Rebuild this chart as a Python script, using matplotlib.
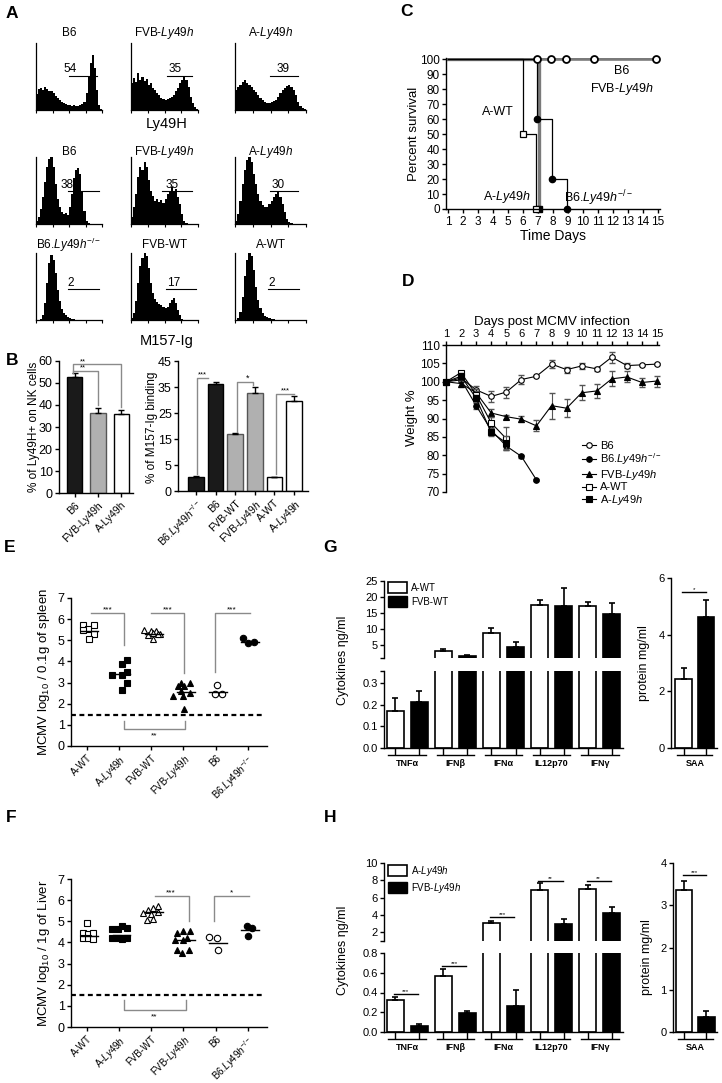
import numpy as np
import matplotlib
matplotlib.use('Agg')
import matplotlib.pyplot as plt
from matplotlib.patches import Patch
from matplotlib.lines import Line2D
from matplotlib.transforms import ScaledTranslation

# ---------------- data ----------------
# A: flow histograms, 32 bins over 4 log decades, height relative to plot height
hist_B6_ly49h = [0.24, 0.31, 0.33, 0.30, 0.34, 0.31, 0.28, 0.29, 0.25, 0.21, 0.18, 0.15, 0.12, 0.11, 0.09, 0.08,
                 0.08, 0.06, 0.07, 0.06, 0.06, 0.07, 0.09, 0.12, 0.25, 0.50, 0.70, 0.82, 0.62, 0.30, 0.08, 0.01]
hist_FVBh_ly49h = [0.40, 0.48, 0.42, 0.55, 0.45, 0.50, 0.43, 0.47, 0.38, 0.40, 0.33, 0.30, 0.25, 0.22, 0.18, 0.17,
                   0.15, 0.17, 0.18, 0.20, 0.22, 0.28, 0.33, 0.40, 0.45, 0.50, 0.45, 0.35, 0.20, 0.10, 0.05, 0.02]
hist_Ah_ly49h = [0.30, 0.35, 0.38, 0.42, 0.45, 0.40, 0.38, 0.35, 0.30, 0.27, 0.22, 0.18, 0.15, 0.12, 0.11, 0.10,
                 0.12, 0.13, 0.15, 0.20, 0.25, 0.30, 0.33, 0.36, 0.38, 0.34, 0.30, 0.22, 0.12, 0.06, 0.03, 0.01]
hist_B6_m157 = [0.04, 0.10, 0.22, 0.40, 0.62, 0.85, 0.97, 1.00, 0.85, 0.60, 0.38, 0.25, 0.18, 0.15, 0.16, 0.14,
                0.25, 0.45, 0.68, 0.80, 0.83, 0.75, 0.50, 0.20, 0.05, 0.01, 0, 0, 0, 0, 0, 0]
hist_FVBh_m157 = [0.10, 0.25, 0.45, 0.70, 0.85, 0.80, 0.93, 0.85, 0.65, 0.50, 0.42, 0.35, 0.38, 0.33, 0.36, 0.32,
                  0.38, 0.45, 0.50, 0.55, 0.48, 0.52, 0.40, 0.30, 0.15, 0.05, 0.01, 0, 0, 0, 0, 0]
hist_Ah_m157 = [0.05, 0.15, 0.35, 0.60, 0.80, 0.95, 1.00, 0.92, 0.75, 0.60, 0.45, 0.35, 0.28, 0.25, 0.26, 0.30,
                0.35, 0.40, 0.45, 0.48, 0.40, 0.30, 0.18, 0.08, 0.03, 0.01, 0, 0, 0, 0, 0, 0]
hist_B6ko_m157 = [0, 0, 0.02, 0.08, 0.25, 0.55, 0.85, 0.97, 0.90, 0.70, 0.45, 0.28, 0.16, 0.10, 0.07, 0.05,
                  0.03, 0.02, 0.01, 0, 0, 0, 0, 0, 0, 0, 0, 0, 0, 0, 0, 0]
hist_FVBwt_m157 = [0.03, 0.10, 0.28, 0.55, 0.80, 0.92, 1.00, 0.95, 0.78, 0.55, 0.40, 0.32, 0.27, 0.24, 0.22, 0.20,
                   0.18, 0.20, 0.26, 0.30, 0.33, 0.25, 0.15, 0.07, 0.02, 0, 0, 0, 0, 0, 0, 0]
hist_Awt_m157 = [0, 0.03, 0.12, 0.35, 0.65, 0.90, 1.00, 0.95, 0.75, 0.50, 0.30, 0.18, 0.10, 0.06, 0.04, 0.03,
                 0.02, 0.01, 0, 0, 0, 0, 0, 0, 0, 0, 0, 0, 0, 0, 0, 0]
hist_counts = [[hist_B6_ly49h, hist_FVBh_ly49h, hist_Ah_ly49h],
               [hist_B6_m157, hist_FVBh_m157, hist_Ah_m157],
               [hist_B6ko_m157, hist_FVBwt_m157, hist_Awt_m157]]
hist_titles = [["B6", "FVB-$\\it{Ly49h}$", "A-$\\it{Ly49h}$"],
               ["B6", "FVB-$\\it{Ly49h}$", "A-$\\it{Ly49h}$"],
               ["B6.$\\it{Ly49h}^{-/-}$", "FVB-WT", "A-WT"]]
gate_pct = [["54", "35", "39"], ["38", "35", "30"], ["2", "17", "2"]]
gate_start = [[2.0, 2.15, 1.97], [1.94, 1.85, 1.97], [1.94, 2.09, 1.86]]
gate_end = [[3.7, 3.64, 3.55], [3.82, 3.64, 3.55], [3.82, 3.88, 3.63]]
gate_label_x = [[2.06, 2.63, 2.7], [1.88, 2.44, 2.4], [2.1, 2.57, 2.07]]
gate_level = [0.51, 0.49, 0.46]

# B
b_left_groups = ["B6", "FVB-Ly49h", "A-Ly49h"]
b_left_vals = [52.9, 36.2, 35.8]
b_left_err = [1.5, 2.6, 1.9]
b_right_groups = ["B6.$\\it{Ly49h}^{-/-}$", "B6", "FVB-WT", "FVB-$\\it{Ly49h}$", "A-WT", "A-$\\it{Ly49h}$"]
b_right_vals = [2.7, 36.0, 16.9, 32.6, 2.6, 29.7]
b_right_err = [0.15, 1.0, 0.4, 2.5, 0.15, 1.9]

# C: survival
c_b6_days = [1, 15]
c_b6 = [100, 100]
c_b6_censor = [6.95, 7.85, 8.85, 10.75, 14.85]
c_awt_days = [1, 6, 6.9]
c_awt = [100, 50, 0]
c_aly_days = [1, 7.05]
c_aly = [100, 0]
c_ko_days = [1, 6.95, 7.95, 8.95]
c_ko = [100, 60, 20, 0]

# D: weight
days = np.arange(1, 16)
d_b6 = [100, 101.0, 97.8, 96.0, 97.2, 100.6, 101.5, 104.8, 103.3, 104.3, 103.5, 106.7, 104.4, 104.6, 104.8]
d_b6_err = [0.3, 1.0, 1.0, 1.5, 1.5, 1.2, 0.3, 1.0, 0.8, 0.9, 0.5, 1.5, 0.6, 0.3, 0.3]
d_ko = [100, 100.5, 93.5, 86.8, 82.5, 79.7, 73.3]
d_ko_err = [0.3, 0.5, 0.8, 1.0, 1.0, 0.5, 0.3]
d_fvbly = [100, 99.5, 97.0, 91.5, 90.5, 89.8, 88.0, 93.5, 92.8, 97.0, 97.5, 100.8, 101.3, 99.8, 100.2]
d_fvbly_err = [0.3, 0.8, 1.0, 1.0, 0.5, 0.8, 1.5, 3.5, 2.5, 2.0, 2.0, 2.0, 1.5, 1.2, 1.5]
d_awt = [100, 102.5, 96.5, 88.8, 84.5]
d_awt_err = [0.3, 0.5, 1.0, 1.5, 3.2]
d_aly = [100, 101.5, 95.5, 86.2, 83.4]
d_aly_err = [0.3, 0.8, 1.0, 1.0, 1.8]

# E / F: viral titres
titre_groups = ["A-WT", "A-$\\it{Ly49h}$", "FVB-WT", "FVB-$\\it{Ly49h}$", "B6", "B6.$\\it{Ly49h}^{-/-}$"]
spleen = [[5.70, 5.72, 5.55, 5.50, 5.30, 5.06],
          [3.34, 3.34, 4.05, 3.88, 3.48, 2.98, 2.66],
          [5.50, 5.45, 5.45, 5.30, 5.35, 5.25, 5.28, 5.06],
          [2.98, 2.98, 2.83, 2.83, 2.60, 2.50, 2.36, 2.36, 1.73],
          [2.88, 2.44, 2.44],
          [5.10, 4.85, 4.90]]
spleen_jit = [[-0.12, 0.22, 0.03, -0.12, 0.22, 0.06],
              [-0.22, 0.09, 0.25, 0.09, 0.25, 0.25, 0.09],
              [-0.22, 0.0, 0.15, 0.28, 0.05, -0.1, 0.2, 0.05],
              [-0.09, 0.19, 0.03, -0.16, -0.09, 0.19, -0.31, 0.0, 0.03],
              [0.03, -0.03, 0.19],
              [-0.16, 0.0, 0.19]]
spleen_line = [5.45, 3.4, 5.3, 2.55, 2.55, 4.9]
liver = [[4.93, 4.45, 4.42, 4.45, 4.20, 4.22, 4.18],
         [4.63, 4.63, 4.76, 4.68, 4.22, 4.20, 4.18, 4.22],
         [5.40, 5.55, 5.63, 5.70, 5.36, 5.42, 5.10, 5.05],
         [4.45, 4.52, 4.52, 4.13, 4.20, 4.10, 3.66, 3.66, 3.50],
         [4.25, 4.20, 3.62],
         [4.80, 4.70, 4.30]]
liver_jit = [[0.0, -0.12, 0.04, 0.2, -0.12, 0.04, 0.2],
             [-0.22, -0.05, 0.1, 0.25, -0.22, -0.05, 0.1, 0.25],
             [-0.25, -0.09, 0.06, 0.22, 0.0, 0.22, 0.06, -0.12],
             [-0.19, 0.0, 0.19, -0.25, 0.12, 0.0, -0.19, 0.16, -0.03],
             [-0.19, 0.03, 0.06],
             [-0.03, 0.12, 0.0]]
liver_line = [4.3, 4.37, 5.42, 4.13, 3.97, 4.57]
detection_limit = [1.45, 1.53]

# G / H: cytokines and SAA
cyto_names = ["TNF\u03b1", "IFN\u03b2", "IFN\u03b1", "IL12p70", "IFN\u03b3"]
g_awt = [0.17, 3.1, 8.8, 17.5, 17.1]
g_awt_err = [0.06, 0.6, 1.5, 1.5, 1.3]
g_fvbwt = [0.21, 1.6, 4.4, 17.2, 14.7]
g_fvbwt_err = [0.055, 0.3, 1.5, 5.5, 3.3]
g_saa = [2.44, 4.63]
g_saa_err = [0.4, 0.6]
h_aly = [0.32, 0.57, 3.05, 6.85, 7.05]
h_aly_err = [0.03, 0.065, 0.3, 0.9, 0.45]
h_fvbly = [0.065, 0.19, 0.26, 2.95, 4.25]
h_fvbly_err = [0.02, 0.025, 0.17, 0.6, 0.7]
h_sig_level = [0.385, 0.67, 3.76, 7.9, 7.9]
h_sig_text = ["***", "***", "***", "**", "**"]
h_saa = [3.36, 0.36]
h_saa_err = [0.21, 0.14]

# ---------------- style ----------------
plt.rcParams['font.family'] = ['Liberation Sans', 'DejaVu Sans']
plt.rcParams['mathtext.fontset'] = 'custom'
plt.rcParams['mathtext.rm'] = 'Liberation Sans'
plt.rcParams['mathtext.it'] = 'Liberation Sans:italic'
plt.rcParams['mathtext.bf'] = 'Liberation Sans:bold'
plt.rcParams['axes.linewidth'] = 1.0
plt.rcParams['xtick.major.width'] = 1.0
plt.rcParams['ytick.major.width'] = 1.0
plt.rcParams['xtick.major.size'] = 3
plt.rcParams['ytick.major.size'] = 3
plt.rcParams['xtick.major.pad'] = 2
plt.rcParams['ytick.major.pad'] = 1.5

W, H = 722, 1083
fig = plt.figure(figsize=(W / 100, H / 100), dpi=100)
GRAY = '#8a8a8a'


def add_ax(left, top, right, bottom):
    ax = fig.add_axes([left / W, 1 - bottom / H, (right - left) / W, (bottom - top) / H])
    ax.patch.set_alpha(0)
    return ax


def ftext(x, y, s, **kw):
    fig.text(x / W, 1 - y / H, s, **kw)


def clean(ax, keep=('left', 'bottom')):
    for side in ['left', 'right', 'top', 'bottom']:
        ax.spines[side].set_visible(side in keep)


# panel letters
for letter, lx, ly in [('A', 12, 13), ('B', 12, 361), ('C', 407, 11), ('D', 408, 282),
                       ('E', 10, 547), ('G', 330, 547), ('F', 11, 818), ('H', 330, 818)]:
    ftext(lx, ly, letter, fontsize=12.5, fontweight='bold', ha='center', va='center')

# ---------------- A ----------------
hist_edges = np.linspace(0, 4, 33)
hist_cols = [(36, 102), (131, 198), (235, 306)]
hist_rows = [(43, 110), (157, 224), (253, 320)]
title_y = [33, 152, 245]
for r in range(3):
    top, bot = hist_rows[r]
    for c in range(3):
        left, right = hist_cols[c]
        ax = add_ax(left, top, right, bot)
        ax.stairs(hist_counts[r][c], hist_edges, fill=True, color='black', lw=0)
        ax.set_xlim(0, 4)
        ax.set_ylim(0, 1)
        clean(ax)
        ax.set_yticks([])
        ax.set_xticks(range(5))
        ax.set_xticklabels([])
        ax.tick_params(axis='x', length=2.5, width=0.8)
        ax.spines['left'].set_linewidth(0.9)
        ax.spines['bottom'].set_linewidth(0.9)
        lvl = gate_level[r]
        ax.plot([gate_start[r][c], gate_end[r][c]], [lvl, lvl], color='black', lw=0.8)
        ax.text(gate_label_x[r][c], lvl + 0.01, gate_pct[r][c], ha='center', va='bottom', fontsize=8.5)
        ftext((left + right) / 2, title_y[r], hist_titles[r][c], ha='center', va='center', fontsize=8.5)
ftext(167, 124, "Ly49H", ha='center', va='center', fontsize=10.5)
ftext(167, 341, "M157-Ig", ha='center', va='center', fontsize=10.5)

# ---------------- B ----------------
ax = add_ax(59, 361, 133, 493)
xb = np.arange(len(b_left_vals))
ax.bar(xb, b_left_vals, width=0.64, color=['#1a1a1a', '#b0b0b0', 'white'], edgecolor=['black', '#555555', 'black'], lw=1)
ax.errorbar(xb, b_left_vals, yerr=[np.zeros(3), b_left_err], fmt='none', ecolor='black', elinewidth=1, capsize=2.5)
ax.set_xlim(-0.66, 2.49)
ax.set_ylim(0, 60)
ax.set_yticks(range(0, 61, 10))
ax.set_xticks(xb)
ax.set_xticklabels(b_left_groups, rotation=45, ha='right', rotation_mode='anchor', fontsize=7.5)
ax.tick_params(axis='y', labelsize=9)
clean(ax)
ax.plot([-0.05, -0.05, 2, 2], [54.6, 58.5, 58.5, 39.2], color=GRAY, lw=1)
ax.plot([-0.05, 1, 1], [55.6, 55.6, 40.2], color=GRAY, lw=1)
ax.text(0.36, 59.6, "**", ha='center', va='center', fontsize=5.5)
ax.text(0.36, 56.9, "**", ha='center', va='center', fontsize=5.5)
ftext(34, 427, "% of Ly49H+ on NK cells", rotation=90, ha='center', va='center', fontsize=8.5)


def fwd(y):
    y = np.asarray(y, dtype=float)
    return np.where(y < 5, 2 * y - 5, y)


def inv(s):
    s = np.asarray(s, dtype=float)
    return np.where(s < 5, (s + 5) / 2, s)


ax = add_ax(178, 361, 308, 491)
ax.set_yscale('function', functions=(fwd, inv))
xb = np.arange(len(b_right_vals))
ax.bar(xb, b_right_vals, width=0.8, color=['#1a1a1a', '#1a1a1a', '#b0b0b0', '#b0b0b0', 'white', 'white'],
       edgecolor=['black', 'black', '#555555', '#555555', 'black', 'black'], lw=1)
ax.errorbar(xb, b_right_vals, yerr=[np.zeros(6), b_right_err], fmt='none', ecolor='black', elinewidth=1, capsize=2.5)
ax.set_xlim(-0.92, 5.71)
ax.set_ylim(0, 45)
ax.set_yticks([0, 5, 15, 25, 35, 45])
ax.set_yticklabels(['0', '5', '15', '25', '35', '45'])
ax.set_xticks(xb)
ax.set_xticklabels(b_right_groups, rotation=45, ha='right', rotation_mode='anchor', fontsize=7.5)
ax.tick_params(axis='y', labelsize=9)
clean(ax)
ax.plot([0.03, 0.03, 0.61], [3.3, 38.5, 38.5], color=GRAY, lw=1)
ax.plot([2.07, 2.07, 2.92, 2.92], [17.7, 36.9, 36.9, 35.6], color=GRAY, lw=1)
ax.plot([4.07, 4.07, 5.0], [3.2, 32.3, 32.3], color=GRAY, lw=1)
ax.text(0.32, 39.6, "***", ha='center', va='center', fontsize=5.5)
ax.text(2.65, 38.4, "*", ha='center', va='center', fontsize=6.5)
ax.text(4.54, 33.4, "***", ha='center', va='center', fontsize=5.5)
ftext(152, 427, "% of M157-Ig binding", rotation=90, ha='center', va='center', fontsize=8.5)

# ---------------- C ----------------
ax = add_ax(446, 58, 660, 209)
ax.plot(c_b6_days, c_b6, color='#7a7a7a', lw=2.6, solid_capstyle='butt')
ax.step(c_aly_days, c_aly, where='post', color='#7a7a7a', lw=2.4)
ax.plot(c_aly_days[1:], c_aly[1:], 's', color='black', ms=4, clip_on=False)
ax.step(c_awt_days, c_awt, where='post', color='black', lw=0.9)
ax.plot(c_awt_days[1:], c_awt[1:], 's', mfc='white', mec='black', ms=4, mew=0.9, clip_on=False)
ax.step(c_ko_days, c_ko, where='post', color='black', lw=0.9)
ax.plot(c_ko_days[1:], c_ko[1:], 'o', color='black', ms=4.5, clip_on=False)
ax.plot(c_b6_censor, [100] * len(c_b6_censor), 'o', mfc='white', mec='black', ms=5, mew=1.3, clip_on=False)
ax.set_xlim(0.87, 15.13)
ax.set_ylim(0, 100.7)
ax.set_xticks(range(1, 16))
ax.set_yticks(range(0, 101, 10))
ax.tick_params(labelsize=8.5)
clean(ax)
ax.set_xlabel("Time Days", fontsize=10, labelpad=1)
ftext(414, 134, "Percent survival", rotation=90, ha='center', va='center', fontsize=9.5)
ftext(622, 71, "B6", ha='center', va='center', fontsize=9)
ftext(622, 89, "FVB-$\\it{Ly49h}$", ha='center', va='center', fontsize=9)
ftext(498, 112, "A-WT", ha='center', va='center', fontsize=9)
ftext(507, 197, "A-$\\it{Ly49h}$", ha='center', va='center', fontsize=9)
ftext(599, 198, "B6.$\\it{Ly49h}^{-/-}$", ha='center', va='center', fontsize=9)

# ---------------- D ----------------
ax = add_ax(446, 345, 659, 492)
series = [(d_b6, d_b6_err, 'o', 'white', "B6"),
          (d_ko, d_ko_err, 'o', 'black', "B6.$\\it{Ly49h}^{-/-}$"),
          (d_fvbly, d_fvbly_err, '^', 'black', "FVB-$\\it{Ly49h}$"),
          (d_awt, d_awt_err, 's', 'white', "A-WT"),
          (d_aly, d_aly_err, 's', 'black', "A-$\\it{Ly49h}$")]
handles = []
for vals, err, mk, fc, name in series:
    n = len(vals)
    ax.errorbar(days[:n], vals, yerr=err, fmt='none', ecolor='#555555', elinewidth=0.8, capsize=2, clip_on=False)
    ax.plot(days[:n], vals, '-', marker=mk, color='black', mfc=fc, mec='black', ms=4, lw=0.8, mew=0.8, clip_on=False)
    handles.append(Line2D([0], [0], color='black', lw=0.8, marker=mk, mfc=fc, mec='black', ms=4, mew=0.8))
ax.set_xlim(1, 15.13)
ax.set_ylim(70, 110)
ax.xaxis.tick_top()
ax.xaxis.set_label_position('top')
ax.set_xticks(days)
ax.set_yticks(range(70, 111, 5))
ax.tick_params(labelsize=8.5)
ax.tick_params(axis='x', labelsize=8, pad=1.5)
clean(ax, ('left', 'top'))
ax.set_xlabel("Days post MCMV infection", fontsize=9.5, labelpad=3)
ftext(412, 418, "Weight %", rotation=90, ha='center', va='center', fontsize=9.5)
ax.legend(handles, [s[4] for s in series], loc='upper left', bbox_to_anchor=(582 / W, 1 - 441 / H),
          bbox_transform=fig.transFigure, frameon=False, fontsize=8, handlelength=1.3, handletextpad=0.3,
          labelspacing=0.05, borderpad=0, borderaxespad=0)


# ---------------- E / F ----------------
def titre_panel(top, bot, vals, jit, lines, limit, ylabel, brackets):
    ax = add_ax(71, top, 267, bot)
    styles = [('s', 'white'), ('s', 'black'), ('^', 'white'), ('^', 'black'), ('o', 'white'), ('o', 'black')]
    for i, (v, j) in enumerate(zip(vals, jit)):
        mk, fc = styles[i]
        ax.plot(i + np.array(j), v, linestyle='none', marker=mk, mfc=fc, mec='black', ms=4.6, mew=0.8)
        ax.plot([i - 0.2, i + 0.35], [lines[i], lines[i]], color='black', lw=1)
    ax.axhline(limit, xmin=0, xmax=0.98, color='black', lw=1.6, ls=(0, (2.2, 1.6)))
    for xs, ys, txt, tx, ty in brackets:
        ax.plot(xs, ys, color=GRAY, lw=1)
        ax.text(tx, ty, txt, ha='center', va='center', fontsize=6)
    ax.set_xlim(-0.5, 5.6)
    ax.set_ylim(0, 7)
    ax.set_yticks(range(8))
    ax.set_xticks(range(6))
    ax.set_xticklabels(titre_groups, rotation=45, ha='right', rotation_mode='anchor', fontsize=7)
    ax.tick_params(axis='y', labelsize=9)
    clean(ax)
    ftext(44, (top + bot) / 2, ylabel, rotation=90, ha='center', va='center', fontsize=9.5)


titre_panel(598, 746, spleen, spleen_jit, spleen_line, detection_limit[0],
            "MCMV log$_{10}$ / 0.1g of spleen",
            [([0.12, 1.15, 1.15], [6.27, 6.27, 4.8], "***", 0.65, 6.45),
             ([2.0, 3.03, 3.03], [6.27, 6.27, 3.45], "***", 2.5, 6.45),
             ([3.97, 3.97, 5.06], [3.5, 6.27, 6.27], "***", 4.5, 6.45),
             ([1.15, 1.15, 3.05, 3.05], [1.2, 0.8, 0.8, 1.2], "**", 2.1, 0.47)])
titre_panel(879, 1027, liver, liver_jit, liver_line, detection_limit[1],
            "MCMV log$_{10}$ / 1g of Liver",
            [([2.1, 3.16, 3.16], [6.18, 6.18, 5.0], "***", 2.6, 6.36),
             ([3.94, 3.94, 5.03], [5.0, 6.18, 6.18], "*", 4.5, 6.36),
             ([1.15, 1.15, 3.08, 3.08], [1.29, 0.82, 0.82, 1.29], "**", 2.1, 0.5)])


# ---------------- G / H ----------------
def group_labels(ax, centers, names):
    line_tr = ax.get_xaxis_transform() + ScaledTranslation(0, -0.07, fig.dpi_scale_trans)
    text_tr = ax.get_xaxis_transform() + ScaledTranslation(0, -0.15, fig.dpi_scale_trans)
    for k, name in enumerate(names):
        a, b = centers[2 * k], centers[2 * k + 1]
        ax.plot([a - 0.28, b + 0.28], [0, 0], transform=line_tr, color='black', lw=1, clip_on=False)
        ax.text((a + b) / 2, 0, name, transform=text_tr, ha='center', va='center', fontsize=6.5, fontweight='bold')


def cytokine_panel(top_box, low_box, saa_box, top_lim, low_lim, top_ticks, low_ticks,
                   wv, we, bv, be, saa, saa_err, saa_lim, saa_ticks, saa_sig, legend_labels,
                   sig_levels=None, sig_text=None):
    n = len(wv)
    xw = np.arange(n) * 2
    xk = xw + 1
    ax_top = add_ax(*top_box)
    ax_low = add_ax(*low_box)
    for ax in (ax_top, ax_low):
        ax.bar(xw, wv, width=0.7, color='white', edgecolor='black', lw=1.2)
        ax.bar(xk, bv, width=0.7, color='black', edgecolor='black', lw=1.2)
        ax.errorbar(xw, wv, yerr=[np.zeros(n), we], fmt='none', ecolor='black', elinewidth=1.2, capsize=2.5, capthick=1.2)
        ax.errorbar(xk, bv, yerr=[np.zeros(n), be], fmt='none', ecolor='black', elinewidth=1.2, capsize=2.5, capthick=1.2)
        ax.set_xlim(-0.46, 2 * n - 0.54)
        ax.tick_params(axis='y', labelsize=8, length=3)
    ax_top.set_ylim(*top_lim)
    ax_low.set_ylim(*low_lim)
    if sig_levels is not None:
        for k, (lvl, txt) in enumerate(zip(sig_levels, sig_text)):
            ax = ax_low if lvl <= low_lim[1] else ax_top
            ax.plot([2 * k - 0.05, 2 * k + 0.95], [lvl, lvl], color='black', lw=1)
            ax.text(2 * k + 0.45, lvl, txt, ha='center', va='bottom', fontsize=4.5)
    ax_top.set_yticks(top_ticks)
    ax_top.set_yticks([top_lim[0]], minor=True)
    ax_top.tick_params(axis='y', which='minor', length=3, width=1)
    ax_top.set_xticks([])
    clean(ax_top, ('left',))
    ax_low.set_yticks(low_ticks)
    ax_low.set_yticklabels(['%.1f' % t for t in low_ticks])
    ax_low.set_yticks([low_lim[1]], minor=True)
    ax_low.tick_params(axis='y', which='minor', length=3, width=1)
    ax_low.set_xticks(np.arange(2 * n))
    ax_low.set_xticklabels([])
    ax_low.tick_params(axis='x', length=5, width=1)
    clean(ax_low)
    group_labels(ax_low, np.arange(2 * n), cyto_names)
    ax_top.legend([Patch(facecolor='white', edgecolor='black', lw=1.2), Patch(facecolor='black', edgecolor='black')],
                  legend_labels, loc='upper left', bbox_to_anchor=((top_box[0] + 4) / W, 1 - (top_box[1] + 1) / H),
                  bbox_transform=fig.transFigure, frameon=False, fontsize=7, handlelength=2.0, handleheight=1.35,
                  handletextpad=0.4, labelspacing=0.3, borderpad=0, borderaxespad=0)

    ax = add_ax(*saa_box)
    ax.bar([0, 1], saa, width=0.75, color=['white', 'black'], edgecolor='black', lw=1.2)
    ax.errorbar([0, 1], saa, yerr=[np.zeros(2), saa_err], fmt='none', ecolor='black', elinewidth=1.2, capsize=2.5, capthick=1.2)
    ax.set_xlim(*saa_lim)
    ax.set_ylim(0, saa_ticks[-1])
    ax.set_yticks(saa_ticks)
    ax.set_xticks([0, 1])
    ax.set_xticklabels([])
    ax.tick_params(axis='y', labelsize=8)
    ax.tick_params(axis='x', length=5, width=1)
    clean(ax)
    group_labels(ax, [0, 1], ["SAA"])
    ax.plot([-0.05, 1.0], [saa_sig[0], saa_sig[0]], color='black', lw=1)
    ax.text(0.47, saa_sig[0], saa_sig[1], ha='center', va='bottom', fontsize=4.5)


cytokine_panel((384, 581, 623, 658), (384, 671, 623, 748), (671, 578, 717, 748),
               (1, 25), (0, 0.355), [5, 10, 15, 20, 25], [0.0, 0.1, 0.2, 0.3],
               g_awt, g_awt_err, g_fvbwt, g_fvbwt_err, g_saa, g_saa_err, (-0.56, 1.49), [0, 2, 4, 6],
               (5.5, "*"), ["A-WT", "FVB-WT"])
cytokine_panel((384, 863, 623, 941), (384, 953, 623, 1032), (673, 863, 717, 1032),
               (1, 10), (0, 0.8), [2, 4, 6, 8, 10], [0.0, 0.2, 0.4, 0.6, 0.8],
               h_aly, h_aly_err, h_fvbly, h_fvbly_err, h_saa, h_saa_err, (-0.49, 1.47), [0, 1, 2, 3, 4],
               (3.71, "***"), ["A-$\\it{Ly49h}$", "FVB-$\\it{Ly49h}$"], h_sig_level, h_sig_text)
ftext(343, 660, "Cytokines \u03b7g/ml", rotation=90, ha='center', va='center', fontsize=9)
ftext(343, 950, "Cytokines \u03b7g/ml", rotation=90, ha='center', va='center', fontsize=9)
ftext(644, 663, "protein mg/ml", rotation=90, ha='center', va='center', fontsize=9)
ftext(647, 957, "protein mg/ml", rotation=90, ha='center', va='center', fontsize=9)

fig.savefig('out.png', dpi=100)
